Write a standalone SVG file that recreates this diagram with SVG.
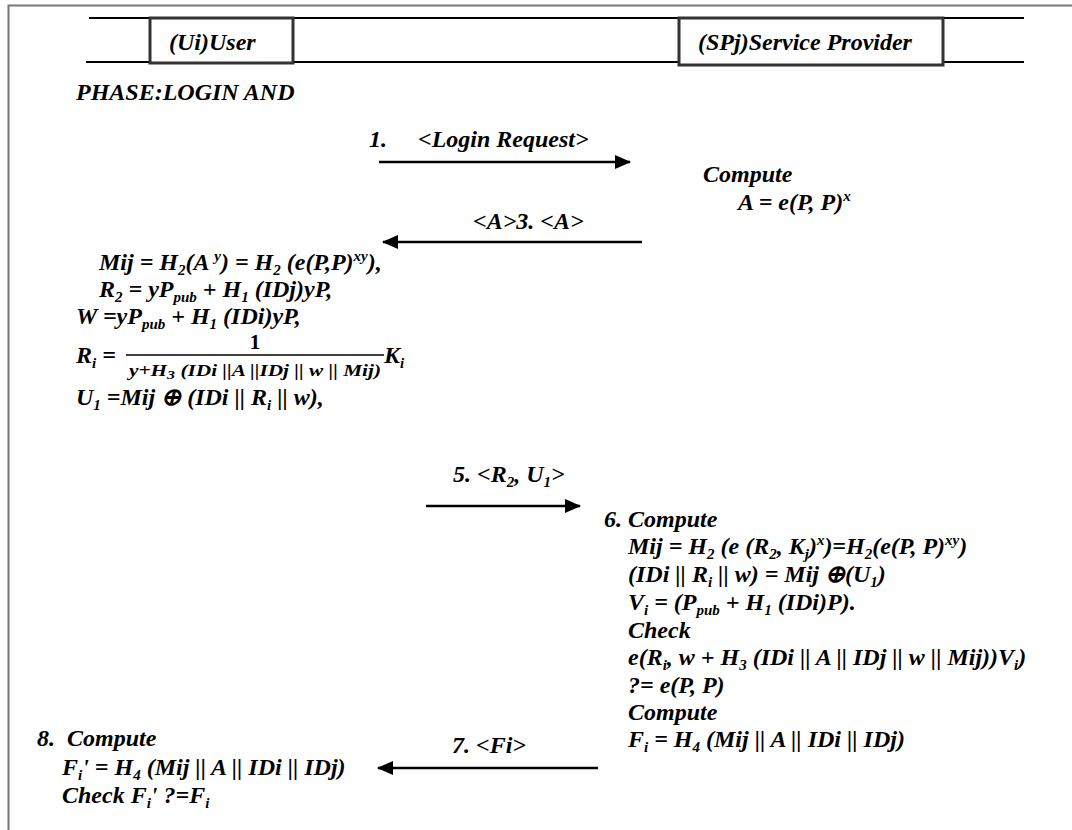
<svg xmlns="http://www.w3.org/2000/svg" width="1072" height="830" viewBox="0 0 1072 830">
<style>
text{font-family:"Liberation Serif","Times New Roman",serif;font-weight:bold;font-style:italic;font-size:24px;fill:#000}
.sb,.sp{font-size:15px}
.den{font-size:16px}
.frame{stroke:#777;stroke-width:2;fill:none}
.hl{stroke:#000;stroke-width:2.2;fill:none}
.box{stroke:#333;stroke-width:3;fill:#fff}
.conn{stroke:#000;stroke-width:2.4;fill:none}
</style>
<defs>
<marker id="ah" viewBox="0 0 16 14" refX="15" refY="7" markerWidth="16" markerHeight="14" markerUnits="userSpaceOnUse" orient="auto">
<path d="M0,0 L16,7 L0,14 Z" fill="#000"/>
</marker>
</defs>
<rect width="1072" height="830" fill="#fff"/>
<path class="frame" d="M8.5,830 V5.5 H1072"/>
<g id="header">
<line class="hl" x1="89" y1="18" x2="1024" y2="18"/>
<line class="hl" x1="86" y1="62" x2="1024" y2="62"/>
</g>
<g id="user">
<rect class="box" x="150" y="18" width="143" height="45"/>
<text x="169" y="50">(Ui)User</text>
</g>
<g id="sp">
<rect class="box" x="679" y="18" width="264" height="47"/>
<text x="698" y="50">(SPj)Service Provider</text>
</g>
<g id="phase">
<text x="76" y="100">PHASE:LOGIN AND</text>
</g>
<g id="connectors">
<line class="conn" x1="379" y1="162" x2="630" y2="162" marker-end="url(#ah)"/>
<line class="conn" x1="642" y1="242" x2="383" y2="242" marker-end="url(#ah)"/>
<line class="conn" x1="426" y1="506" x2="580" y2="506" marker-end="url(#ah)"/>
<line class="conn" x1="598" y1="768" x2="378" y2="768" marker-end="url(#ah)"/>
</g>
<g id="labels">
<text x="369" y="147">1.</text>
<text x="418" y="147">&lt;Login Request&gt;</text>
<text x="473" y="229">&lt;A&gt;3. &lt;A&gt;</text>
<text x="453" y="482">5. &lt;R<tspan class="sb" dy="5">2</tspan><tspan dy="-5">, U</tspan><tspan class="sb" dy="5">1</tspan><tspan dy="-5">&gt;</tspan></text>
<text x="452" y="753">7. &lt;Fi&gt;</text>
</g>
<g id="sp-compute1">
<text x="703" y="182">Compute</text>
<text x="738" y="210">A = e(P, P)<tspan class="sp" dy="-9">x</tspan></text>
</g>
<g id="user-compute">
<text x="99" y="270">Mij = H<tspan class="sb" dy="5">2</tspan><tspan dy="-5">(A </tspan><tspan class="sp" dy="-9">y</tspan><tspan dy="9">) = H</tspan><tspan class="sb" dy="5">2</tspan><tspan dy="-5"> (e(P,P)</tspan><tspan class="sp" dy="-9">xy</tspan><tspan dy="9">),</tspan></text>
<text x="99" y="297">R<tspan class="sb" dy="5">2</tspan><tspan dy="-5"> = yP</tspan><tspan class="sb" dy="5">pub</tspan><tspan dy="-5"> + H</tspan><tspan class="sb" dy="5">1</tspan><tspan dy="-5"> (IDj)yP,</tspan></text>
<text x="76" y="324">W =yP<tspan class="sb" dy="5">pub</tspan><tspan dy="-5"> + H</tspan><tspan class="sb" dy="5">1</tspan><tspan dy="-5"> (IDi)yP,</tspan></text>
<text x="255" y="349" text-anchor="middle" style="font-style:normal;font-size:21px">1</text>
<text x="76" y="363">R<tspan class="sb" dy="5">i</tspan><tspan dy="-5"> =</tspan></text>
<line x1="126" y1="355" x2="384" y2="355" stroke="#000" stroke-width="1.6"/>
<text class="den" x="129" y="376" textLength="252" lengthAdjust="spacingAndGlyphs">y+H<tspan dy="3" style="font-size:12px">3</tspan><tspan dy="-3"> (IDi ||A ||IDj || w || Mij)</tspan></text>
<text x="384" y="363">K<tspan class="sb" dy="5">i</tspan></text>
<text x="76" y="405">U<tspan class="sb" dy="5">1</tspan><tspan dy="-5"> =Mij ⊕ (IDi || R</tspan><tspan class="sb" dy="5">i</tspan><tspan dy="-5"> || w),</tspan></text>
</g>
<g id="sp-compute2">
<text x="604" y="527">6. Compute</text>
<text x="628" y="554">Mij = H<tspan class="sb" dy="5">2</tspan><tspan dy="-5"> (e (R</tspan><tspan class="sb" dy="5">2</tspan><tspan dy="-5">, K</tspan><tspan class="sb" dy="5">j</tspan><tspan dy="-5">)</tspan><tspan class="sp" dy="-9">x</tspan><tspan dy="9">)=H</tspan><tspan class="sb" dy="5">2</tspan><tspan dy="-5">(e(P, P)</tspan><tspan class="sp" dy="-9">xy</tspan><tspan dy="9">)</tspan></text>
<text x="628" y="582">(IDi || R<tspan class="sb" dy="5">i</tspan><tspan dy="-5"> || w) = Mij ⊕(U</tspan><tspan class="sb" dy="5">1</tspan><tspan dy="-5">)</tspan></text>
<text x="628" y="610">V<tspan class="sb" dy="5">i</tspan><tspan dy="-5"> = (P</tspan><tspan class="sb" dy="5">pub</tspan><tspan dy="-5"> + H</tspan><tspan class="sb" dy="5">1</tspan><tspan dy="-5"> (IDi)P).</tspan></text>
<text x="628" y="638">Check</text>
<text x="628" y="665">e(R<tspan class="sb" dy="5">i</tspan><tspan dy="-5">, w + H</tspan><tspan class="sb" dy="5">3</tspan><tspan dy="-5"> (IDi || A || IDj || w || Mij))V</tspan><tspan class="sb" dy="5">i</tspan><tspan dy="-5">)</tspan></text>
<text x="628" y="693">?= e(P, P)</text>
<text x="628" y="720">Compute</text>
<text x="628" y="747">F<tspan class="sb" dy="5">i</tspan><tspan dy="-5"> = H</tspan><tspan class="sb" dy="5">4</tspan><tspan dy="-5"> (Mij || A || IDi || IDj)</tspan></text>
</g>
<g id="user-compute2">
<text x="37" y="746" xml:space="preserve">8.  Compute</text>
<text x="62" y="775">F<tspan class="sb" dy="5">i</tspan><tspan dy="-5">' = H</tspan><tspan class="sb" dy="5">4</tspan><tspan dy="-5"> (Mij || A || IDi || IDj)</tspan></text>
<text x="62" y="803">Check F<tspan class="sb" dy="5">i</tspan><tspan dy="-5">' ?=F</tspan><tspan class="sb" dy="5">i</tspan></text>
</g>
</svg>
